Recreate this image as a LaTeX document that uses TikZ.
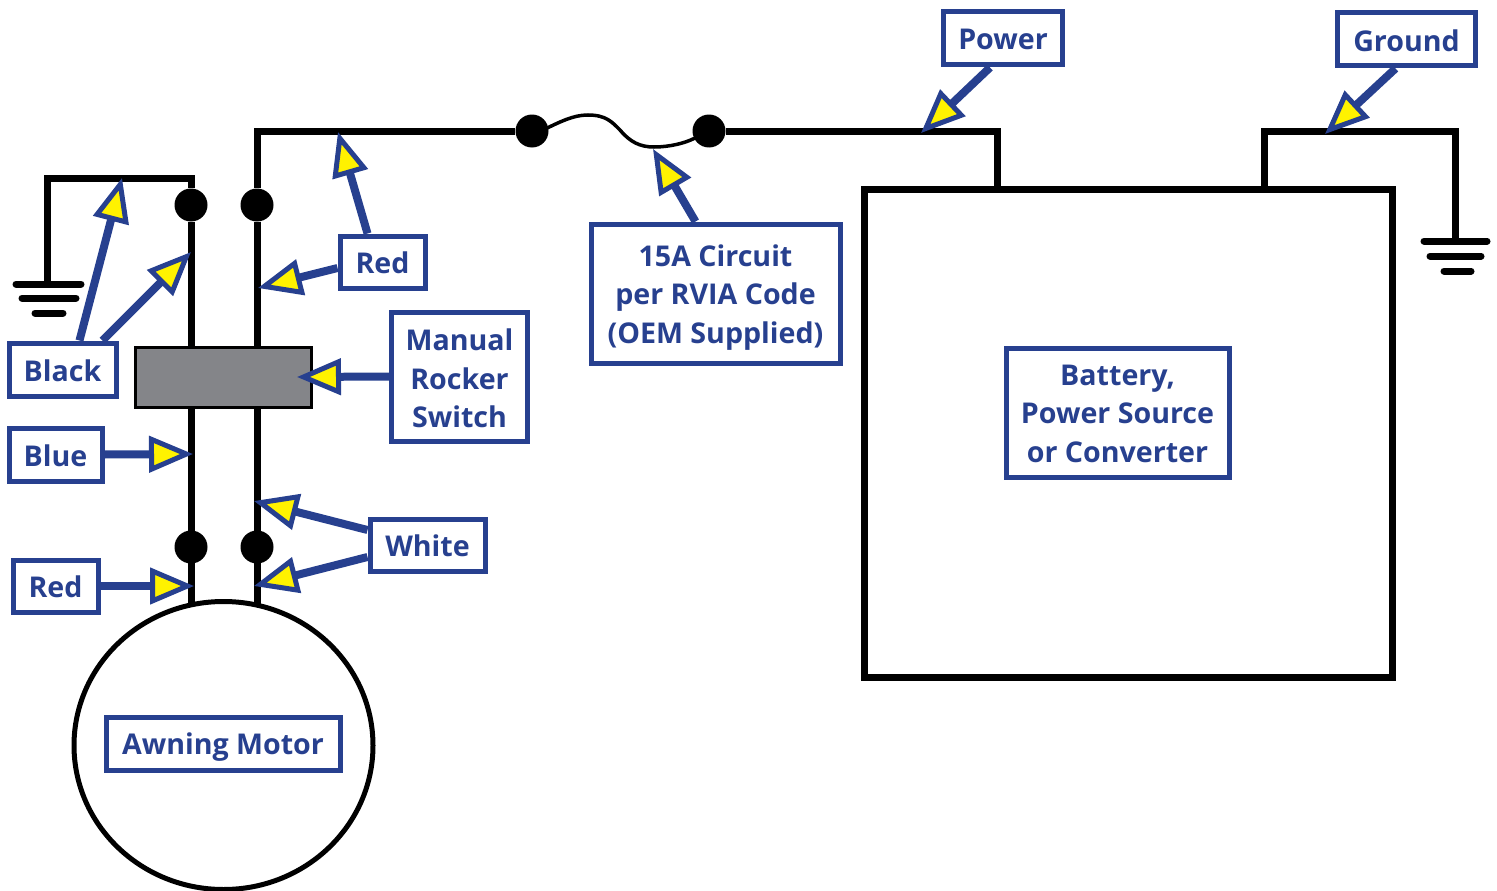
\documentclass[tikz,border=0pt]{standalone}
\usepackage{fontspec}
\setmainfont{Open Sans}
\usetikzlibrary{arrows.meta,shapes.geometric}
\definecolor{lblue}{HTML}{27408F}
\definecolor{tipyellow}{HTML}{FFF200}
\definecolor{swgrey}{HTML}{848589}
\newcommand\dn[2]{\raisebox{0pt}[\dimexpr\height+#1pt*2\relax]{\textbf{#2}}}
\tikzset{
  wire/.style={draw=black,line width=7pt,line join=miter},
  gbar/.style={draw=black,line width=7pt,line cap=round},
  dotnode/.style={circle,fill=black,minimum size=33pt,inner sep=0pt},
  lbl/.style={draw=lblue,line width=5pt,fill=white,text=lblue,align=center,inner sep=0pt,
    font=\fontsize{28.6}{38.5}\selectfont},
  callout/.style={draw=lblue,line width=8pt,-{Triangle[length=44pt,width=36pt,fill=tipyellow,line width=5pt]}},
}
\begin{document}
\begin{tikzpicture}[x=1pt,y=-1pt]
\useasboundingbox (0,0) rectangle (1497,891);
% junction dots
\node[dotnode] (d1) at (191,205) {};
\node[dotnode] (d2) at (257,205) {};
\node[dotnode] (d3) at (191,547) {};
\node[dotnode] (d4) at (257,547) {};
\node[dotnode] (f1) at (532,131) {};
\node[dotnode] (f2) at (709,131) {};
% battery and motor
\node[draw=black,line width=7pt,fill=white,minimum width=528pt,minimum height=488pt,inner sep=0pt] (bat) at (1128.5,433) {};
\node[ellipse,draw=black,line width=5pt,fill=white,minimum width=299pt,minimum height=288pt,inner sep=0pt] (motor) at (223.5,745.5) {};
% wires
\coordinate (g1) at (47,178);
\coordinate (g1b) at (47,284);
\coordinate (w1) at (257,131);
\coordinate (w2) at (997,131);
\coordinate (w3) at (1264,131);
\coordinate (w4) at (1455,131);
\coordinate (g2b) at (1455,241);
\coordinate (mtop) at ([yshift=-6pt]motor.north);
\draw[wire] (g1b) -- (g1) -- (g1 -| d1) -- (d1);
\draw[wire] (d1) -- (d3 |- mtop);
\draw[wire] (d2) -- (d4 |- mtop);
\draw[wire] (f1) -- (w1) -- (d2);
\draw[wire] (f2) -- (w2) -- (w2 |- bat.north);
\draw[wire] (w3 |- bat.north) -- (w3) -- (w4) -- (g2b);
\draw[line width=3.5pt,line cap=round] (f1)+(13,-2) .. controls (560,122) and (573,115) .. (588,115)
  .. controls (606,115) and (612,122) .. (620,130)
  .. controls (630,142) and (640,147) .. (654,147)
  .. controls (670,147) and (685,143) .. (f2);
\draw[wire,fill=swgrey,line width=3pt] (135,347) rectangle (311,407);
% ground bars
\draw[gbar] (16,284) -- (81,284);
\draw[gbar] (22,298) -- (76,298);
\draw[gbar] (35,313) -- (63,313);
\draw[gbar] (1424,241) -- (1487,241);
\draw[gbar] (1430,256) -- (1481,256);
\draw[gbar] (1444,271) -- (1471,271);
% labels
\node[lbl,minimum width=119pt,minimum height=53pt] (power) at (1003,38.5) {\dn{1}{Power}};
\node[lbl,minimum width=138pt,minimum height=53pt] (ground) at (1406.5,39.5) {\dn{1}{Ground}};
\node[lbl,minimum width=85pt,minimum height=52pt] (redtop) at (382.5,262) {\dn{1}{Red}};
\node[lbl,minimum width=249pt,minimum height=139pt] (fuse) at (715.5,293.5) {\dn{4}{15A Circuit}\\\textbf{per RVIA Code}\\\textbf{(OEM Supplied)}};
\node[lbl,minimum width=136pt,minimum height=129pt] (rocker) at (459.5,376.5) {\dn{2}{Manual}\\\textbf{Rocker}\\\textbf{Switch}};
\node[lbl,minimum width=107pt,minimum height=53pt] (black) at (62.5,369.5) {\dn{1}{Black}};
\node[lbl,minimum width=93pt,minimum height=53pt] (blue) at (55.5,454.5) {\dn{1}{Blue}};
\node[lbl,minimum width=115pt,minimum height=52pt] (white) at (427.5,545) {\dn{1}{White}};
\node[lbl,minimum width=85pt,minimum height=52pt] (redlow) at (55.5,586) {\dn{1}{Red}};
\node[lbl,minimum width=223pt,minimum height=129pt] (source) at (1117.5,412.5) {\dn{1}{Battery,}\\\textbf{Power Source}\\\textbf{or Converter}};
\node[lbl,minimum width=234pt,minimum height=53pt] (motorlbl) at (223,743.5) {\dn{4}{Awning Motor}};
% tips
\coordinate (tpower) at (921,133);
\coordinate (tground) at (1325,134);
\coordinate (tred1) at (338,132);
\coordinate (tred2) at (258,288);
\coordinate (tfuse) at (653,149);
\coordinate (trock) at (297,377);
\coordinate (tb1) at (122,178);
\coordinate (tb2) at (191,252);
\coordinate (tblue) at (193,454);
\coordinate (tw1) at (254,501);
\coordinate (tw2) at (254,586);
\coordinate (tr3) at (194,586);
% callouts
\draw[callout] ([xshift=-13pt]power.south) -- (tpower);
\draw[callout] ([xshift=-11pt]ground.south) -- (tground);
\draw[callout] ([xshift=-15pt]redtop.north) -- (tred1);
\draw[callout] ([yshift=-6pt]redtop.west) -- (tred2);
\draw[callout] ([xshift=-20pt]fuse.north) -- (tfuse);
\draw[callout] (rocker.west) -- (trock);
\draw[callout] ([xshift=17pt]black.north) -- (tb1);
\draw[callout] ([xshift=40pt]black.north) -- (tb2);
\draw[callout] (blue.east) -- (tblue);
\draw[callout] ([yshift=15pt]white.west) -- (tw1);
\draw[callout] ([yshift=-12pt]white.west) -- (tw2);
\draw[callout] (redlow.east) -- (tr3);
\end{tikzpicture}
\end{document}
